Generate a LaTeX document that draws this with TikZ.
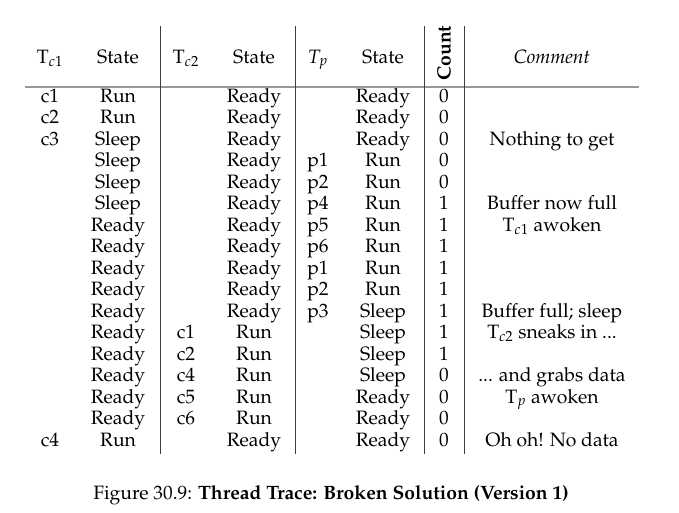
\documentclass[tikz,border=0pt]{standalone}
\usepackage[T1]{fontenc}
\usepackage{mathpazo}
\usepackage{tikz}
\usetikzlibrary{positioning}

\newcommand{\tracefont}{\fontsize{14.5}{16}\selectfont}

\tikzset{
  cell/.style={inner sep=0pt, anchor=base, font=\tracefont},
  vrule/.style={draw=black!75, line width=0.75pt},
  hrule/.style={draw=black!40, line width=1.2pt},
}

\begin{document}
\begin{tikzpicture}[x=0.75pt, y=-0.75pt]
\useasboundingbox (0,0) rectangle (679,512);

% Header
\node[cell] (h-tca) at (50,63) {T$_{c1}$};
\node[cell] (h-sa) at (118,63) {State};
\node[cell] (h-tcb) at (186,63) {T$_{c2}$};
\node[cell] (h-sb) at (254,63) {State};
\node[cell] (h-tp) at (318,63) {$T_p$};
\node[cell] (h-sp) at (383,63) {State};
\node[cell, anchor=center, rotate=90, font=\tracefont\bfseries] (h-count) at (444,53) {Count};
\node[cell] (h-comment) at (552,63) {\textit{Comment}};

% Rules
\coordinate (rule-l) at (25,87);
\coordinate (rule-r) at (639,87);
\draw[hrule] (rule-l) -- (rule-r);
\foreach \x [count=\k] in {160,295,424,464} {
    \coordinate (top-\k) at (\x,26);
    \coordinate (bot-\k) at (\x,454);
    \draw[vrule] (top-\k) -- (bot-\k);
}

% Trace rows
\foreach \a/\b/\c/\d/\e/\f/\g/\h [count=\i] in {
    c1/Run/{}/Ready/{}/Ready/0/{},
    c2/Run/{}/Ready/{}/Ready/0/{},
    c3/Sleep/{}/Ready/{}/Ready/0/Nothing to get,
    {}/Sleep/{}/Ready/p1/Run/0/{},
    {}/Sleep/{}/Ready/p2/Run/0/{},
    {}/Sleep/{}/Ready/p4/Run/1/Buffer now full,
    {}/Ready/{}/Ready/p5/Run/1/{T$_{c1}$ awoken},
    {}/Ready/{}/Ready/p6/Run/1/{},
    {}/Ready/{}/Ready/p1/Run/1/{},
    {}/Ready/{}/Ready/p2/Run/1/{},
    {}/Ready/{}/Ready/p3/Sleep/1/{Buffer full; sleep},
    {}/Ready/c1/Run/{}/Sleep/1/{T$_{c2}$ sneaks in ...},
    {}/Ready/c2/Run/{}/Sleep/1/{},
    {}/Ready/c4/Run/{}/Sleep/0/{... and grabs data},
    {}/Ready/c5/Run/{}/Ready/0/{T$_p$ awoken},
    {}/Ready/c6/Run/{}/Ready/0/{},
    c4/Run/{}/Ready/{}/Ready/0/{Oh oh! No data}} {
    \node[cell] (tca-\i) at (50,{102+(\i-1)*21.5}) {\a};
    \node[cell] (sa-\i) at (118,{102+(\i-1)*21.5}) {\b};
    \node[cell] (tcb-\i) at (186,{102+(\i-1)*21.5}) {\c};
    \node[cell] (sb-\i) at (254,{102+(\i-1)*21.5}) {\d};
    \node[cell] (tp-\i) at (318,{102+(\i-1)*21.5}) {\e};
    \node[cell] (sp-\i) at (383,{102+(\i-1)*21.5}) {\f};
    \node[cell] (count-\i) at (444,{102+(\i-1)*21.5}) {\g};
    \node[cell] (comment-\i) at (552,{102+(\i-1)*21.5}) {\h};
}

% Caption
\node[cell] (caption) at (331,499) {Figure 30.9: \textbf{Thread Trace: Broken Solution (Version 1)}};
\end{tikzpicture}
\end{document}
